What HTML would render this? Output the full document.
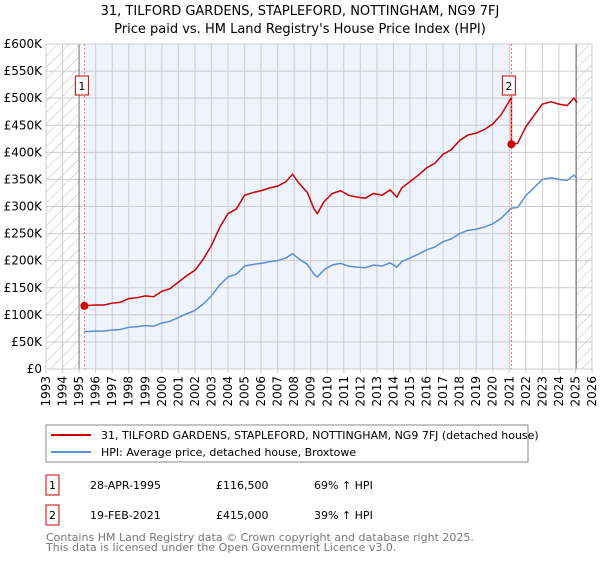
<!DOCTYPE html>
<html><head><meta charset="utf-8"><style>
body{margin:0;background:#fff;font-family:"Liberation Sans","DejaVu Sans",sans-serif;}
svg text{font-family:"DejaVu Sans","Liberation Sans",sans-serif;}
</style></head><body>
<svg id="chart" width="600" height="560" xmlns="http://www.w3.org/2000/svg">
<defs><pattern id="hatch" patternUnits="userSpaceOnUse" width="8" height="8" patternTransform="rotate(45)"><line x1="0" y1="0" x2="0" y2="8" stroke="#bbb" stroke-width="1"/></pattern></defs>
<text x="300" y="15" text-anchor="middle" font-size="13">31, TILFORD GARDENS, STAPLEFORD, NOTTINGHAM, NG9 7FJ</text>
<text x="300" y="33" text-anchor="middle" font-size="13">Price paid vs. HM Land Registry's House Price Index (HPI)</text>
<g id="plot"></g>
<g>
<rect x="46" y="425" width="482" height="37" fill="#fff" stroke="#888"/>
<line x1="51" y1="435" x2="91" y2="435" stroke="#cc0000" stroke-width="2"/>
<text x="101" y="439" font-size="11">31, TILFORD GARDENS, STAPLEFORD, NOTTINGHAM, NG9 7FJ (detached house)</text>
<line x1="51" y1="452" x2="91" y2="452" stroke="#5b8fd4" stroke-width="2"/>
<text x="101" y="456" font-size="11">HPI: Average price, detached house, Broxtowe</text>
</g>
<g font-size="11">
<rect x="46" y="475" width="13" height="20" fill="#fff" stroke="#cc0000"/><text x="52.5" y="489" text-anchor="middle">1</text>
<text x="90" y="489">28-APR-1995</text><text x="216" y="489">£116,500</text><text x="314" y="489">69% ↑ HPI</text>
<rect x="46" y="505" width="13" height="20" fill="#fff" stroke="#cc0000"/><text x="52.5" y="519" text-anchor="middle">2</text>
<text x="90" y="519">19-FEB-2021</text><text x="216" y="519">£415,000</text><text x="314" y="519">39% ↑ HPI</text>
</g>
<text x="46" y="541" font-size="11" fill="#777">Contains HM Land Registry data © Crown copyright and database right 2025.</text>
<text x="46" y="551" font-size="11" fill="#777">This data is licensed under the Open Government Licence v3.0.</text>
</svg>
<script>
const hpiYears=[1995.3,1996,1996.5,1997,1997.5,1998,1998.5,1999,1999.5,2000,2000.5,2001,2001.5,2002,2002.5,2003,2003.5,2004,2004.5,2005,2005.5,2006,2006.5,2007,2007.5,2007.9,2008.3,2008.8,2009.2,2009.4,2009.8,2010.3,2010.8,2011.3,2011.8,2012.3,2012.8,2013.3,2013.8,2014.2,2014.5,2015,2015.5,2016,2016.5,2017,2017.5,2018,2018.5,2019,2019.5,2020,2020.5,2021.13,2021.5,2022,2022.5,2023,2023.5,2024,2024.5,2024.9,2025.1];
const hpiValues=[69,70,70,72,73,77,78,80,79,85,88,95,102,108,120,135,155,170,175,190,193,195,198,200,205,213,203,193,175,170,183,192,195,190,188,187,192,190,196,188,198,205,212,220,225,235,240,250,256,258,262,268,278,297,298,320,335,350,353,350,348,358,352];
const saleYears=[1995.32,2021.13];
const salePrices=[116.5,415];
const saleLabels=["1","2"];
const yTicks=[0,50,100,150,200,250,300,350,400,450,500,550,600];
const xTicks=[1993,1994,1995,1996,1997,1998,1999,2000,2001,2002,2003,2004,2005,2006,2007,2008,2009,2010,2011,2012,2013,2014,2015,2016,2017,2018,2019,2020,2021,2022,2023,2024,2025,2026];
const X0=46,X1=592,Y0=369,Y1=44;
const xs=y=>X0+(y-1993)/(2026-1993)*(X1-X0);
const ys=v=>Y0-v/600*(Y0-Y1);
const NS="http://www.w3.org/2000/svg";
const g=document.getElementById('plot');
function mk(t,a,p){const e=document.createElementNS(NS,t);for(const k in a)e.setAttribute(k,a[k]);(p||g).appendChild(e);return e;}
function hpiAt(y){for(let i=0;i<hpiYears.length-1;i++){if(y<=hpiYears[i+1]){const f=(y-hpiYears[i])/(hpiYears[i+1]-hpiYears[i]);return hpiValues[i]+f*(hpiValues[i+1]-hpiValues[i]);}}return hpiValues[hpiValues.length-1];}
let r=mk('rect',{x:X0,y:Y1,width:X1-X0,height:Y0-Y1,fill:'#fff'});

r=mk('rect',{x:xs(saleYears[0]),y:Y1,width:xs(saleYears[1])-xs(saleYears[0]),height:Y0-Y1,fill:'#eef3fc'});

r=mk('rect',{x:X0,y:Y1,width:xs(1995)-X0,height:Y0-Y1,fill:'url(#hatch)'});

r=mk('rect',{x:xs(2025.05),y:Y1,width:X1-xs(2025.05),height:Y0-Y1,fill:'url(#hatch)'});

yTicks.forEach(v=>{
 let l=mk('line',{x1:X0,x2:X1,y1:ys(v),y2:ys(v),stroke:'#ccc'});
 
 let t=mk('text',{x:X0-4,y:ys(v)+4,'text-anchor':'end','font-size':12});
 
 t.textContent=v===0?'£0':'£'+v+'K';
});
xTicks.forEach(y=>{
 let l=mk('line',{x1:xs(y),x2:xs(y),y1:Y1,y2:Y0+4,stroke:'#ccc'});
 
 let t=mk('text',{x:0,y:0,'text-anchor':'end','font-size':12,transform:`translate(${xs(y)+4},${Y0+7}) rotate(-90)`});
 
 t.textContent=y;
});
[1995,2025.05].forEach(y=>{let l=mk('line',{x1:xs(y),x2:xs(y),y1:Y1,y2:Y0,stroke:'#777'});
 });
r=mk('rect',{x:X0,y:Y1,width:X1-X0,height:Y0-Y1,fill:'none',stroke:'#ccc'});

let hp=mk('polyline',{points:hpiYears.map((y,i)=>xs(y)+','+ys(hpiValues[i])).join(' '),fill:'none',stroke:'#5b8fd4','stroke-width':1.5});

const ratios=saleYears.map((y,i)=>salePrices[i]/hpiAt(y));
let pts=[];
hpiYears.forEach((y,i)=>{
 if(y<saleYears[1]) pts.push(xs(y)+','+ys(hpiValues[i]*ratios[0]));
 else {if(i>0&&hpiYears[i-1]<saleYears[1]){pts.push(xs(saleYears[1])+','+ys(hpiAt(saleYears[1])*ratios[0]));pts.push(xs(saleYears[1])+','+ys(salePrices[1]));}
  pts.push(xs(y)+','+ys(hpiValues[i]*ratios[1]));}
});
let pl=mk('polyline',{points:pts.join(' '),fill:'none',stroke:'#cc0000','stroke-width':1.5});

saleYears.forEach((y,i)=>{
 let l=mk('line',{x1:xs(y),x2:xs(y),y1:Y1,y2:Y0,stroke:'#f07070','stroke-dasharray':'2,2'});
 
 let c=mk('circle',{cx:xs(y),cy:ys(salePrices[i]),r:4,fill:'#cc0000'});
 
 let b=mk('rect',{x:xs(y)-9,y:76,width:13,height:19,fill:'#fff',stroke:'#cc0000'});
 
 let t=mk('text',{x:xs(y)-2.5,y:90,'text-anchor':'middle','font-size':11});
 
 t.textContent=saleLabels[i];
});
</script>
</body></html>
